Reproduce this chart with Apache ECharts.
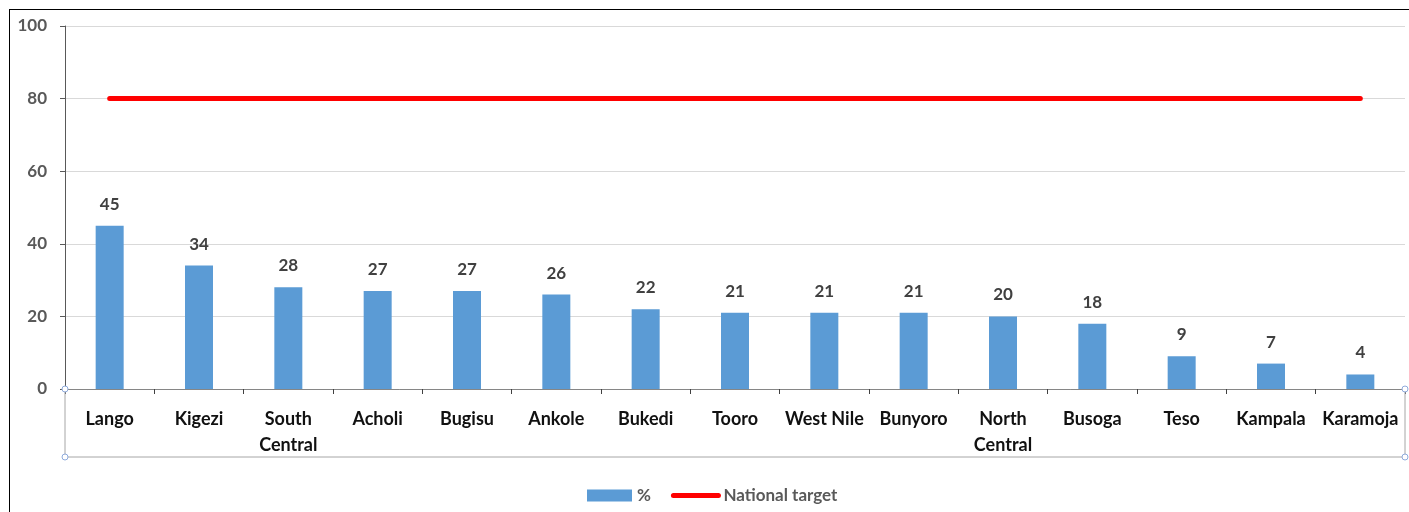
<!DOCTYPE html>
<html>
<head>
    <meta charset="utf-8">
    <title>Regional coverage vs national target</title>
    <script src="https://cdn.jsdelivr.net/npm/echarts@6.0.0/dist/echarts.min.js"></script>
    <style>
        body {
            margin: 0;
            padding: 0;
            background-color: #fff;
            font-family: Lato, sans-serif;
        }
        #frame {
            position: absolute;
            left: 9px;
            top: 9px;
            width: 1420px;
            height: 520px;
            border-left: 1px solid #000;
            border-top: 1px solid #000;
        }
        #chart {
            position: absolute;
            left: 0;
            top: 0;
            width: 1409px;
            height: 512px;
        }
    </style>
</head>
<body>
    <div id="frame"></div>
    <div id="chart"></div>

    <script>
        const regions = ['Lango', 'Kigezi', 'South\nCentral', 'Acholi', 'Bugisu', 'Ankole', 'Bukedi',
            'Tooro', 'West Nile', 'Bunyoro', 'North\nCentral', 'Busoga', 'Teso', 'Kampala', 'Karamoja'];
        const percent = [45, 34, 28, 27, 27, 26, 22, 21, 21, 21, 20, 18, 9, 7, 4];
        const nationalTarget = [80, 80, 80, 80, 80, 80, 80, 80, 80, 80, 80, 80, 80, 80, 80];
        const yTicks = { min: 0, max: 100, interval: 20 };

        const chart = echarts.init(document.getElementById('chart'));

        const gridLeft = 65, gridRight = 1405, axisY = 389, boxBottom = 457;
        const handle = (x, y) => ({
            type: 'circle',
            shape: { cx: x, cy: y, r: 3 },
            style: { fill: '#fff', stroke: '#8eaadb', lineWidth: 1 },
            z: 100
        });

        const option = {
            animation: false,
            textStyle: { fontFamily: 'Lato, sans-serif' },
            grid: { left: gridLeft, right: 1409 - gridRight, top: 26, bottom: 512 - axisY, containLabel: false },
            legend: {
                left: 582,
                top: 482,
                itemWidth: 45,
                itemHeight: 12,
                itemGap: 20,
                textStyle: { color: '#595959', fontSize: 17, fontWeight: 'bold' },
                data: [
                    { name: '%', icon: 'rect' },
                    {
                        name: 'National target',
                        itemStyle: { color: 'transparent', borderWidth: 0, opacity: 0 },
                        lineStyle: { color: '#ff0000', width: 5, cap: 'round' }
                    }
                ]
            },
            xAxis: {
                type: 'category',
                data: regions,
                axisLine: { lineStyle: { color: '#868686', width: 1 } },
                axisTick: { show: true, length: 5, lineStyle: { color: '#404040' } },
                axisLabel: {
                    color: '#111',
                    fontSize: 18,
                    fontWeight: 'bold',
                    margin: 17,
                    lineHeight: 26,
                    interval: 0
                }
            },
            yAxis: {
                type: 'value',
                min: yTicks.min,
                max: yTicks.max,
                interval: yTicks.interval,
                axisLine: { show: true, lineStyle: { color: '#595959', width: 1 } },
                axisTick: { show: true, length: 5, lineStyle: { color: '#595959' } },
                axisLabel: { color: '#595959', fontSize: 17, fontWeight: 'bold', margin: 18 },
                splitLine: { lineStyle: { color: '#d9d9d9' } }
            },
            series: [
                {
                    name: '%',
                    type: 'bar',
                    data: percent,
                    barWidth: 28,
                    itemStyle: { color: '#5b9bd5' },
                    label: {
                        show: true,
                        position: 'top',
                        distance: 13,
                        color: '#404040',
                        fontSize: 17,
                        fontWeight: 'bold'
                    }
                },
                {
                    name: 'National target',
                    type: 'line',
                    data: nationalTarget,
                    symbol: 'none',
                    lineStyle: { color: '#ff0000', width: 5, cap: 'round' },
                    itemStyle: { color: '#ff0000' }
                }
            ],
            graphic: [
                {
                    type: 'polyline',
                    shape: { points: [[gridLeft, axisY], [gridLeft, boxBottom], [gridRight, boxBottom], [gridRight, axisY]] },
                    style: { stroke: '#a6a6a6', lineWidth: 1, fill: null },
                    z: 90
                },
                handle(gridLeft, axisY),
                handle(gridLeft, boxBottom),
                handle(gridRight, axisY),
                handle(gridRight, boxBottom)
            ]
        };

        chart.setOption(option);
        window.addEventListener('resize', () => chart.resize());
    </script>
</body>
</html>
